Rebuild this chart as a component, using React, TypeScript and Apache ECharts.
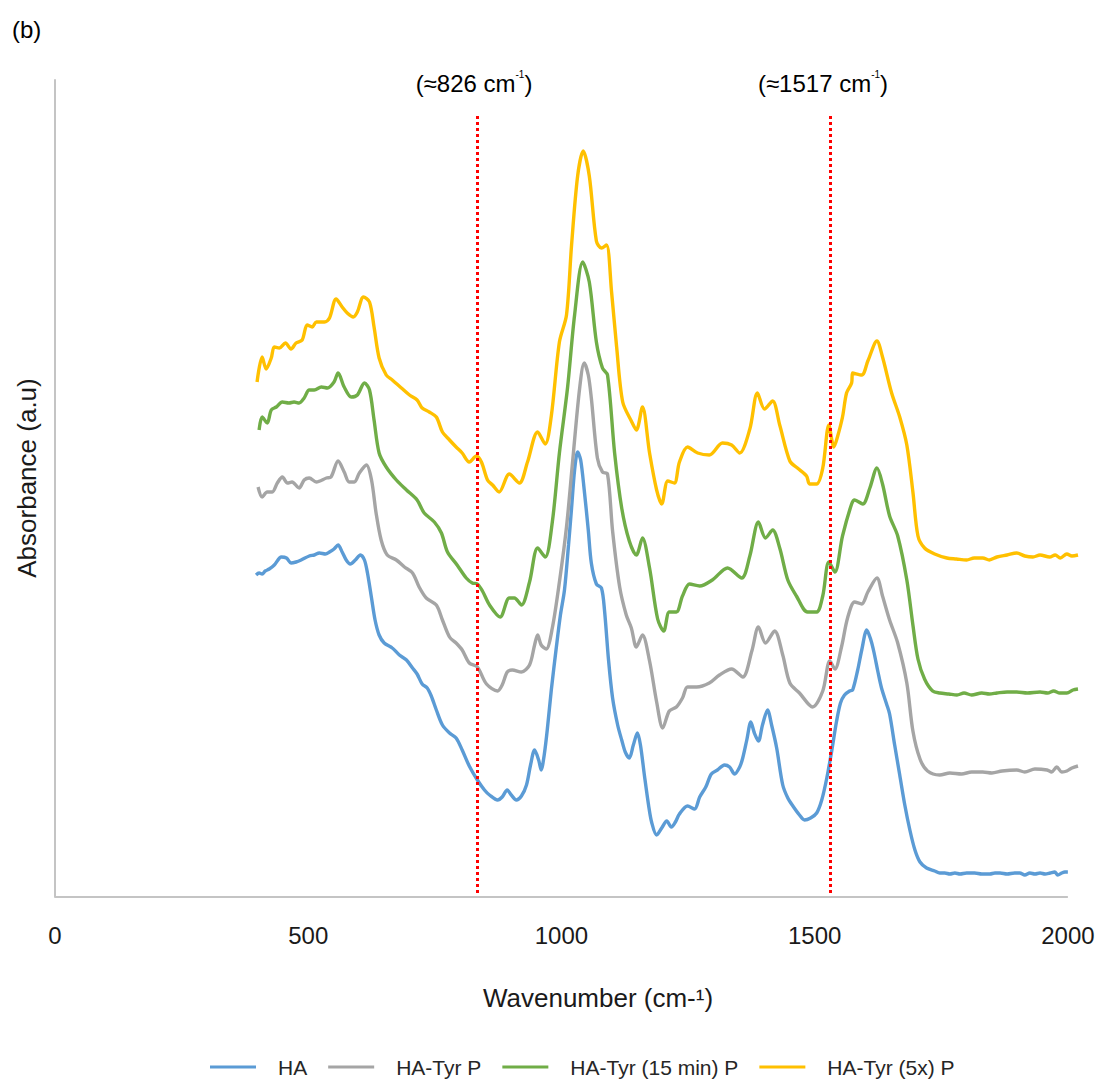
import React, { useEffect, useRef } from "react";
import * as echarts from "echarts";

const seriesNames = ["HA", "HA-Tyr P", "HA-Tyr (15 min) P", "HA-Tyr (5x) P"];
const seriesColors = ["#5b9bd5", "#a5a5a5", "#70ad47", "#ffc000"];
const xTicks = [0, 500, 1000, 1500, 2000];
const xDataEnd = 2020;
const markerWavenumbers = [834, 1531];
const markerLabels = ["826", "1517"];

const haData = [
  [397, 0.322], [403, 0.324], [409, 0.323], [415, 0.326], [423, 0.328], [433, 0.332], [447, 0.34],
  [457, 0.339], [466, 0.334], [476, 0.335], [486, 0.337], [502, 0.341], [512, 0.342], [522, 0.344],
  [534, 0.343], [542, 0.345], [551, 0.348], [559, 0.352], [567, 0.345], [575, 0.337], [583, 0.333],
  [593, 0.337], [603, 0.342], [611, 0.337], [617, 0.324], [625, 0.299], [632, 0.277], [640, 0.262],
  [650, 0.254], [666, 0.249], [680, 0.242], [694, 0.237], [706, 0.229], [715, 0.223], [725, 0.213],
  [735, 0.209], [743, 0.201], [753, 0.187], [765, 0.172], [779, 0.164], [792, 0.159], [804, 0.147],
  [818, 0.131], [834, 0.117], [848, 0.107], [858, 0.102], [874, 0.097], [883, 0.1], [893, 0.107],
  [901, 0.102], [911, 0.097], [921, 0.101], [931, 0.112], [939, 0.132], [947, 0.147], [955, 0.137],
  [960, 0.127], [966, 0.142], [972, 0.167], [980, 0.207], [990, 0.25], [998, 0.282], [1006, 0.307],
  [1014, 0.352], [1020, 0.389], [1026, 0.427], [1032, 0.445], [1038, 0.437], [1045, 0.407],
  [1053, 0.367], [1059, 0.334], [1069, 0.313], [1079, 0.309], [1085, 0.287], [1093, 0.237],
  [1101, 0.199], [1111, 0.172], [1119, 0.157], [1126, 0.145], [1134, 0.139], [1142, 0.152],
  [1150, 0.164], [1156, 0.152], [1164, 0.121], [1172, 0.092], [1178, 0.075], [1188, 0.062],
  [1198, 0.069], [1208, 0.076], [1217, 0.07], [1225, 0.075], [1233, 0.083], [1249, 0.091],
  [1263, 0.088], [1273, 0.1], [1285, 0.11], [1296, 0.123], [1308, 0.127], [1322, 0.132],
  [1332, 0.13], [1342, 0.123], [1352, 0.13], [1358, 0.139], [1366, 0.157], [1374, 0.175],
  [1381, 0.164], [1389, 0.156], [1397, 0.172], [1407, 0.187], [1415, 0.172], [1425, 0.149],
  [1437, 0.112], [1447, 0.099], [1457, 0.091], [1470, 0.082], [1480, 0.077], [1492, 0.079],
  [1504, 0.084], [1514, 0.097], [1524, 0.119], [1534, 0.147], [1543, 0.175], [1551, 0.194],
  [1559, 0.202], [1569, 0.206], [1575, 0.207], [1585, 0.227], [1593, 0.247], [1603, 0.267],
  [1611, 0.257], [1617, 0.245], [1625, 0.225], [1632, 0.209], [1642, 0.193], [1648, 0.183],
  [1658, 0.152], [1668, 0.122], [1678, 0.092], [1688, 0.067], [1698, 0.047], [1708, 0.035],
  [1721, 0.029], [1737, 0.026], [1747, 0.024], [1757, 0.024], [1767, 0.023], [1777, 0.024],
  [1787, 0.023], [1800, 0.024], [1816, 0.024], [1830, 0.023], [1846, 0.023], [1856, 0.024],
  [1866, 0.024], [1880, 0.023], [1895, 0.024], [1905, 0.024], [1915, 0.022], [1925, 0.024],
  [1935, 0.023], [1945, 0.024], [1955, 0.023], [1965, 0.024], [1974, 0.025], [1980, 0.022],
  [1988, 0.024], [1994, 0.025], [2000, 0.025],
];

const haTyrData = [
  [401, 0.41], [409, 0.4], [419, 0.405], [429, 0.405], [439, 0.414], [449, 0.42], [459, 0.414],
  [468, 0.415], [482, 0.409], [492, 0.417], [502, 0.419], [516, 0.415], [536, 0.419], [545, 0.42],
  [559, 0.436], [571, 0.425], [581, 0.415], [591, 0.415], [601, 0.424], [615, 0.432], [625, 0.417],
  [634, 0.384], [644, 0.357], [656, 0.342], [674, 0.337], [690, 0.33], [706, 0.324], [719, 0.31],
  [733, 0.299], [753, 0.292], [765, 0.277], [779, 0.26], [792, 0.254], [804, 0.247], [818, 0.234],
  [834, 0.23], [852, 0.213], [874, 0.206], [883, 0.212], [893, 0.225], [903, 0.227], [921, 0.225],
  [937, 0.232], [947, 0.252], [953, 0.262], [960, 0.252], [970, 0.248], [982, 0.269], [996, 0.315],
  [1010, 0.37], [1022, 0.435], [1036, 0.509], [1045, 0.534], [1053, 0.522], [1059, 0.499],
  [1071, 0.439], [1081, 0.425], [1091, 0.423], [1101, 0.366], [1115, 0.31], [1128, 0.282],
  [1138, 0.269], [1148, 0.25], [1160, 0.262], [1174, 0.236], [1188, 0.195], [1200, 0.169],
  [1213, 0.186], [1227, 0.19], [1239, 0.199], [1249, 0.21], [1267, 0.21], [1292, 0.214],
  [1312, 0.222], [1336, 0.228], [1358, 0.22], [1376, 0.246], [1389, 0.27], [1403, 0.254],
  [1421, 0.266], [1437, 0.242], [1451, 0.214], [1470, 0.204], [1496, 0.19], [1516, 0.206],
  [1530, 0.236], [1540, 0.228], [1553, 0.25], [1565, 0.279], [1579, 0.295], [1593, 0.293],
  [1605, 0.305], [1623, 0.319], [1634, 0.301], [1648, 0.277], [1664, 0.254], [1682, 0.214],
  [1694, 0.166], [1708, 0.138], [1723, 0.126], [1747, 0.122], [1767, 0.124], [1790, 0.123],
  [1810, 0.125], [1832, 0.125], [1850, 0.124], [1870, 0.126], [1899, 0.127], [1915, 0.125],
  [1935, 0.128], [1959, 0.127], [1968, 0.125], [1978, 0.13], [1988, 0.125], [1998, 0.126],
  [2008, 0.129], [2020, 0.131],
];

const haTyr15Data = [
  [403, 0.467], [409, 0.48], [419, 0.474], [427, 0.487], [437, 0.49], [449, 0.495], [462, 0.494],
  [472, 0.495], [482, 0.494], [492, 0.499], [502, 0.507], [512, 0.507], [526, 0.51], [538, 0.509],
  [551, 0.515], [559, 0.524], [571, 0.51], [585, 0.5], [597, 0.502], [611, 0.514], [621, 0.507],
  [630, 0.477], [640, 0.444], [654, 0.43], [674, 0.417], [694, 0.407], [715, 0.397], [729, 0.384],
  [749, 0.375], [763, 0.364], [775, 0.345], [794, 0.332], [812, 0.319], [824, 0.314], [834, 0.313],
  [844, 0.306], [858, 0.292], [879, 0.28], [897, 0.299], [907, 0.299], [921, 0.292], [937, 0.315],
  [953, 0.349], [968, 0.34], [982, 0.375], [996, 0.444], [1012, 0.509], [1026, 0.582], [1042, 0.635],
  [1055, 0.615], [1069, 0.555], [1081, 0.529], [1091, 0.522], [1105, 0.444], [1119, 0.389],
  [1134, 0.356], [1148, 0.342], [1160, 0.359], [1174, 0.329], [1190, 0.278], [1202, 0.266],
  [1213, 0.285], [1227, 0.285], [1239, 0.301], [1253, 0.313], [1273, 0.311], [1298, 0.317],
  [1328, 0.329], [1356, 0.319], [1372, 0.341], [1389, 0.375], [1403, 0.359], [1417, 0.367],
  [1431, 0.349], [1447, 0.317], [1464, 0.301], [1486, 0.285], [1504, 0.285], [1516, 0.301],
  [1528, 0.335], [1540, 0.325], [1555, 0.361], [1573, 0.393], [1579, 0.397], [1595, 0.393],
  [1609, 0.409], [1623, 0.429], [1634, 0.413], [1648, 0.381], [1664, 0.361], [1682, 0.317],
  [1694, 0.272], [1704, 0.238], [1717, 0.218], [1733, 0.206], [1747, 0.204], [1765, 0.203],
  [1781, 0.202], [1795, 0.204], [1810, 0.202], [1830, 0.204], [1845, 0.203], [1860, 0.204],
  [1880, 0.205], [1899, 0.205], [1920, 0.204], [1945, 0.205], [1960, 0.204], [1972, 0.206],
  [1984, 0.204], [1998, 0.204], [2010, 0.207], [2020, 0.208],
];

const haTyr5xData = [
  [399, 0.515], [409, 0.54], [417, 0.528], [427, 0.539], [433, 0.55], [443, 0.549], [455, 0.554],
  [466, 0.548], [476, 0.554], [488, 0.557], [498, 0.572], [508, 0.57], [516, 0.575], [532, 0.575],
  [542, 0.579], [555, 0.598], [567, 0.59], [577, 0.584], [589, 0.58], [597, 0.585], [609, 0.6],
  [621, 0.595], [630, 0.57], [640, 0.539], [654, 0.522], [666, 0.517], [684, 0.509], [700, 0.502],
  [715, 0.497], [725, 0.489], [739, 0.485], [753, 0.48], [765, 0.465], [779, 0.457], [792, 0.45],
  [804, 0.444], [818, 0.435], [832, 0.441], [842, 0.435], [854, 0.417], [864, 0.412], [877, 0.405],
  [897, 0.423], [917, 0.414], [933, 0.435], [953, 0.465], [968, 0.453], [980, 0.481], [996, 0.555],
  [1010, 0.582], [1020, 0.652], [1032, 0.721], [1043, 0.746], [1055, 0.721], [1069, 0.656],
  [1079, 0.649], [1089, 0.652], [1099, 0.605], [1109, 0.55], [1121, 0.495], [1138, 0.476],
  [1148, 0.467], [1160, 0.49], [1174, 0.444], [1188, 0.407], [1198, 0.393], [1210, 0.416],
  [1223, 0.414], [1233, 0.435], [1249, 0.45], [1269, 0.444], [1292, 0.442], [1318, 0.454],
  [1336, 0.452], [1352, 0.444], [1372, 0.468], [1387, 0.504], [1401, 0.488], [1417, 0.496],
  [1431, 0.472], [1451, 0.436], [1466, 0.429], [1484, 0.421], [1490, 0.413], [1504, 0.413],
  [1516, 0.429], [1528, 0.472], [1538, 0.45], [1545, 0.46], [1555, 0.48], [1563, 0.504],
  [1573, 0.514], [1575, 0.524], [1593, 0.522], [1605, 0.536], [1623, 0.556], [1634, 0.54],
  [1652, 0.504], [1668, 0.48], [1682, 0.452], [1694, 0.405], [1704, 0.361], [1717, 0.349],
  [1737, 0.343], [1761, 0.339], [1780, 0.338], [1800, 0.337], [1815, 0.339], [1832, 0.339],
  [1845, 0.337], [1860, 0.34], [1880, 0.342], [1899, 0.344], [1915, 0.341], [1931, 0.34],
  [1945, 0.342], [1964, 0.34], [1975, 0.342], [1985, 0.339], [1998, 0.343], [2008, 0.341],
  [2020, 0.342],
];

const seriesData = [haData, haTyrData, haTyr15Data, haTyr5xData];

const FONT = "Liberation Sans, Arial, sans-serif";

export default function App() {
  const ref = useRef<HTMLDivElement>(null);
  useEffect(() => {
    if (!ref.current) return;
    const chart = echarts.init(ref.current, undefined, { renderer: "svg" });
    const markLineData: any[] = markerWavenumbers.map((w) => [
      { coord: [w, 0.004], lineStyle: { color: "#ff0000", width: 3, type: [3, 3] } },
      { coord: [w, 0.784] },
    ]);
    const series: any[] = seriesNames.map((name, i) => ({
      name,
      type: "line",
      data: seriesData[i],
      showSymbol: false,
      symbol: "none",
      smooth: 0.3,
      clip: false,
      lineStyle: { color: seriesColors[i], width: 3.4 },
      itemStyle: { color: seriesColors[i] },
      z: 3 + i,
    }));
    series[0].markLine = {
      silent: true,
      symbol: ["none", "none"],
      label: { show: false },
      data: [
        [
          { coord: [xTicks[0], 0], lineStyle: { color: "#c4c4c4", width: 2, type: "solid" } },
          { coord: [xTicks[xTicks.length - 1], 0] },
        ],
        ...markLineData,
      ],
      z: 10,
    };
    chart.setOption({
      animation: false,
      backgroundColor: "#ffffff",
      grid: { left: 55, right: 25, top: 80, bottom: 185, containLabel: false },
      xAxis: {
        type: "value",
        min: xTicks[0],
        max: xDataEnd,
        interval: 500,
        axisLine: { show: false },
        axisTick: { show: false },
        splitLine: { show: false },
        axisLabel: {
          margin: 26,
          fontSize: 24,
          color: "#1a1a1a",
          fontFamily: FONT,
          showMinLabel: true,
          showMaxLabel: true,
          formatter: (v: number) => (xTicks.indexOf(v) >= 0 ? String(v) : ""),
        },
      },
      yAxis: {
        type: "value",
        min: 0,
        max: 0.817,
        axisLine: { show: true, lineStyle: { color: "#c4c4c4", width: 2 } },
        axisTick: { show: false },
        axisLabel: { show: false },
        splitLine: { show: false },
      },
      legend: {
        data: seriesNames,
        top: 1053,
        left: 210,
        padding: 0,
        icon: "rect",
        itemWidth: 46,
        itemHeight: 3,
        itemGap: 21,
        textStyle: {
          fontSize: 21,
          lineHeight: 28,
          color: "#262626",
          fontFamily: FONT,
          padding: [0, 0, 0, 17],
        },
      },
      graphic: [
        {
          type: "text",
          left: 12,
          top: 17,
          style: { text: "(b)", fontSize: 24, fill: "#000", fontFamily: FONT },
        },
        {
          type: "text",
          x: 598,
          y: 998,
          style: {
            text: "Wavenumber (cm-\u00B9)",
            fontSize: 26,
            fill: "#1a1a1a",
            fontFamily: FONT,
            align: "center",
            verticalAlign: "middle",
          },
        },
        {
          type: "text",
          x: 27,
          y: 478,
          rotation: Math.PI / 2,
          style: {
            text: "Absorbance (a.u)",
            fontSize: 26,
            fill: "#1a1a1a",
            fontFamily: FONT,
            align: "center",
            verticalAlign: "middle",
          },
        },
        ...markerLabels.map((lab, i) => ({
          type: "text",
          x: [474, 823][i],
          y: 83,
          style: {
            text: `{a|(\u2248${lab} cm}{s|-1}{a|)}`,
            align: "center",
            verticalAlign: "middle",
            rich: {
              a: { fontSize: 24, fill: "#000", fontFamily: FONT, lineHeight: 28 },
              s: { fontSize: 10, fill: "#000", fontFamily: FONT, verticalAlign: "top", lineHeight: 28, padding: [0, 0, 12, 0] },
            },
          },
        })),
      ],
      series,
    });
    return () => chart.dispose();
  }, []);
  return (
    <div
      ref={ref}
      style={{ position: "absolute", left: 0, top: 0, width: 1103, height: 1082 }}
    />
  );
}
